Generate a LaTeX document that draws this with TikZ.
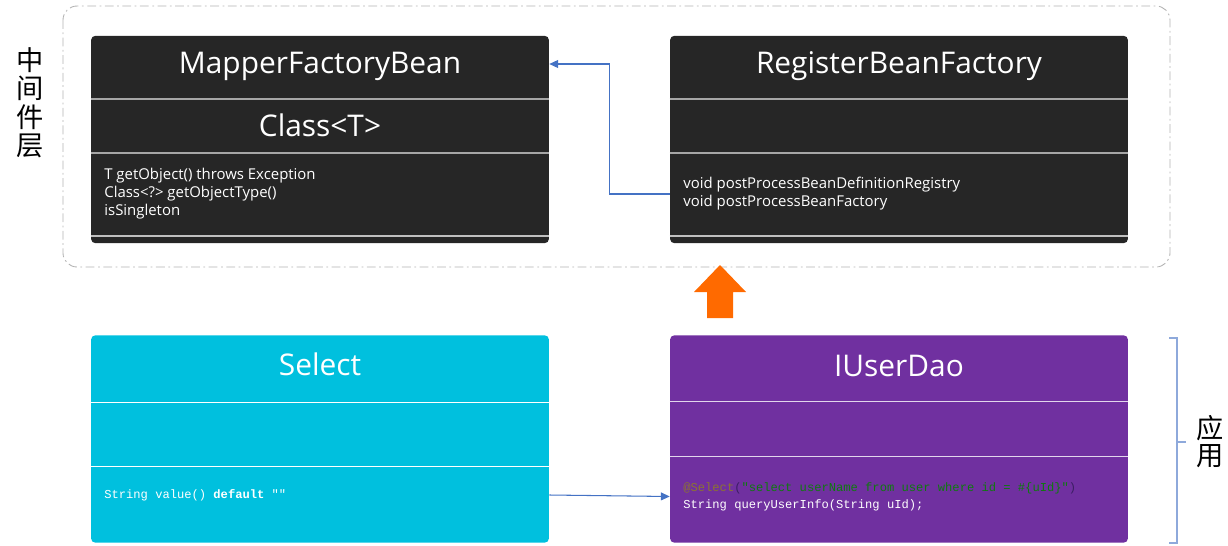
\documentclass[tikz,border=0pt]{standalone}
\usepackage{fontspec}
\setmainfont{Open Sans}
\setmonofont{Liberation Mono}
\newfontfamily\cjk{Noto Sans CJK SC}
\usetikzlibrary{arrows.meta}
\definecolor{boxdark}{HTML}{262626}
\definecolor{boxcyan}{HTML}{00C0DE}
\definecolor{boxpurple}{HTML}{7030A0}
\definecolor{linkblue}{HTML}{4472C4}
\definecolor{bracecol}{HTML}{8EA9DB}
\definecolor{uporange}{HTML}{FF6A00}
\definecolor{annotcol}{HTML}{8C7430}
\definecolor{strgreen}{HTML}{0E7A0E}
\definecolor{parcol}{HTML}{3B1E63}

\begin{document}
\begin{tikzpicture}[x=0.02cm,y=-0.02cm,>={Triangle[length=5pt,width=4.5pt]},
    box/.style={rounded corners=2.5pt,minimum width=9.16cm,minimum height=4.15cm,inner sep=0pt},
    title/.style={text=white,inner sep=0pt,font=\fontsize{17pt}{20pt}\selectfont},
    ops/.style={text=white,anchor=west,align=left,inner sep=0pt,font=\fontsize{8.5pt}{10.2pt}\selectfont},
    code/.style={text=white,anchor=west,align=left,inner sep=0pt,font=\ttfamily\fontsize{6.9pt}{9.6pt}\selectfont},
    div/.style={draw=gray!70,line width=0.7pt},
    divw/.style={draw=white,line width=0.5pt},
    link/.style={draw=linkblue,line width=0.6pt},
    side/.style={inner sep=0pt,align=center}]
  \useasboundingbox (0,0) rectangle (1228,545);
  % middleware frame
  \draw[gray!60,line width=0.5pt,rounded corners=8pt,dash pattern=on 5pt off 2pt on 1pt off 2pt] (63,6) rectangle (1170,267);
  \node[side,font=\cjk\fontsize{15.5pt}{16.2pt}\selectfont] (midlabel) at (30,103) {中\\间\\件\\层};

  % MapperFactoryBean
  \node[box,fill=boxdark] (mapper) at (320,139.5) {};
  \draw[div] (mapper.west |- 0,99) -- (mapper.east |- 0,99);
  \draw[div] (mapper.west |- 0,153) -- (mapper.east |- 0,153);
  \draw[div,line width=1.2pt,draw=gray!50] (mapper.west |- 0,236) -- (mapper.east |- 0,236);
  \node[title] (maptitle) at (320,66) {MapperFactoryBean};
  \node[title] (mapclass) at (320,125) {Class<T>};
  \node[ops] (mapops) at (104,194) {T getObject() throws Exception\\Class<?> getObjectType()\\isSingleton};

  % RegisterBeanFactory
  \node[box,fill=boxdark] (reg) at (899,139.5) {};
  \draw[div] (reg.west |- 0,99) -- (reg.east |- 0,99);
  \draw[div] (reg.west |- 0,153) -- (reg.east |- 0,153);
  \draw[div,line width=1.2pt,draw=gray!50] (reg.west |- 0,236) -- (reg.east |- 0,236);
  \node[title] (regtitle) at (899,66) {RegisterBeanFactory};
  \node[ops] (regops) at (683,194) {void postProcessBeanDefinitionRegistry\\void postProcessBeanFactory};

  \draw[link,->] (regops.west -| reg.west) -- ++(-60,0) |- ([yshift=0.04cm]maptitle.west -| mapper.east);

  % up arrow
  \fill[uporange] (707,318) -- (707,292) -- (694,292) -- (720,265) -- (746,292) -- (733,292) -- (733,318) -- cycle;

  % Select
  \node[box,fill=boxcyan] (sel) at (320,439) {};
  \draw[divw] (sel.west |- 0,402) -- (sel.east |- 0,402);
  \draw[divw] (sel.west |- 0,466) -- (sel.east |- 0,466);
  \node[title] (seltitle) at (320,364) {Select};
  \node[code] (selops) at (104,495) {String value() \textbf{default} ""};

  % IUserDao
  \node[box,fill=boxpurple] (dao) at (899,439) {};
  \draw[divw,draw=white!80!boxpurple] (dao.west |- 0,401) -- (dao.east |- 0,401);
  \draw[divw,draw=white!80!boxpurple] (dao.west |- 0,456) -- (dao.east |- 0,456);
  \node[title] (daotitle) at (899,366) {IUserDao};
  \node[code] (daoops) at (683,496.5) {{\color{annotcol}@Select}{\color{parcol}(}{\color{strgreen}"select userName from user where id = \#\{uId\}"}{\color{parcol})}\\String queryUserInfo(String uId);};

  \draw[link,->] (selops.west -| sel.east) -- (daoops.west -| dao.west);

  % application brace
  \draw[bracecol,line width=0.7pt] (1169,338) -- (1177,338) -- (1177,543) -- (1169,543) (1177,442) -- (1186,442);
  \node[side,font=\cjk\fontsize{15.5pt}{15.3pt}\selectfont] (applabel) at (1210,441.5) {应\\用};
\end{tikzpicture}
\end{document}
